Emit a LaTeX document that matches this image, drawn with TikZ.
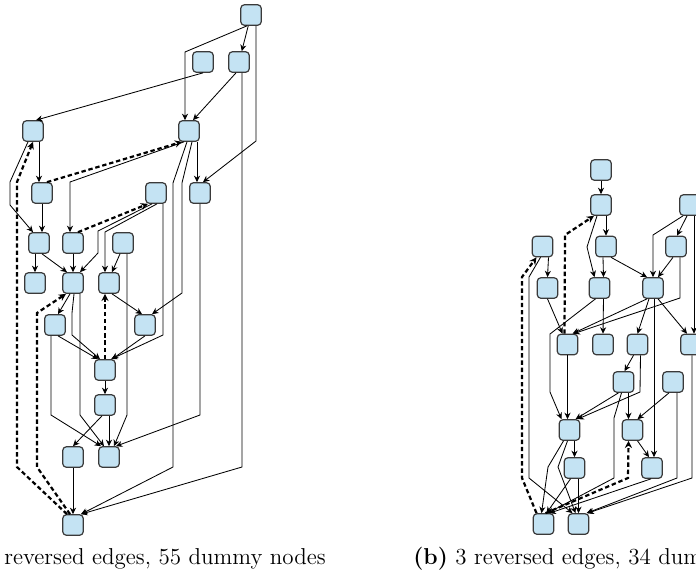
\documentclass[tikz,border=0pt]{standalone}
\usetikzlibrary{arrows.meta,calc}
\definecolor{boxfill}{HTML}{C4E3F3}
\definecolor{boxline}{HTML}{3A3A3A}
\begin{document}
\begin{tikzpicture}[x=0.5pt,y=-0.5pt,
  box/.style={draw=boxline,fill=boxfill,line width=0.6pt,rounded corners=1.8pt,minimum width=10.25pt,minimum height=10.25pt,inner sep=0pt},
  edge/.style={line width=0.42pt,-{Stealth[length=3.2pt,width=3pt,inset=1pt]}},
  rev/.style={line width=1.1pt,dash pattern=on 2.2pt off 1.4pt,-{Stealth[length=3.6pt,width=3.6pt,inset=1.2pt]}},
  captxt/.style={anchor=base west,inner sep=0pt,font=\fontsize{11.5pt}{13pt}\selectfont}]
\useasboundingbox (0,0) rectangle (696,574);
\clip (0,0) rectangle (696,574);
\fill[white] (0,0) rectangle (696,574);
% left graph nodes
\node[box] (N1) at (251,15) {};
\node[box] (N2) at (203,62) {};
\node[box] (N3) at (239,62) {};
\node[box] (N4) at (33,131) {};
\node[box] (N5) at (189,131) {};
\node[box] (N6) at (42,193) {};
\node[box] (N7) at (156,193) {};
\node[box] (N8) at (200,193) {};
\node[box] (N9) at (39,243) {};
\node[box] (N10) at (73,243) {};
\node[box] (N11) at (123,243) {};
\node[box] (N12) at (35,283) {};
\node[box] (N13) at (73,283) {};
\node[box] (N14) at (109,283) {};
\node[box] (N15) at (55,325) {};
\node[box] (N16) at (145,325) {};
\node[box] (N17) at (105,370) {};
\node[box] (N18) at (105,405) {};
\node[box] (N19) at (73,457) {};
\node[box] (N20) at (109,457) {};
\node[box] (N21) at (73,525) {};
% right graph nodes
\node[box] (R1) at (601,170) {};
\node[box] (R2) at (601,205) {};
\node[box] (R3) at (690,205) {};
\node[box] (R4) at (542.5,246.5) {};
\node[box] (R5) at (606,246.5) {};
\node[box] (R6) at (676,246.5) {};
\node[box] (R7) at (547.5,288) {};
\node[box] (R8) at (599.5,288) {};
\node[box] (R9) at (653,288) {};
\node[box] (R10) at (567.5,344.5) {};
\node[box] (R11) at (603,344.5) {};
\node[box] (R12) at (637.5,344.5) {};
\node[box] (R13) at (691,344.5) {};
\node[box] (R14) at (623.5,382) {};
\node[box] (R15) at (673,382) {};
\node[box] (R16) at (569.5,430) {};
\node[box] (R17) at (632.5,430) {};
\node[box] (R18) at (574.5,468) {};
\node[box] (R19) at (652,468) {};
\node[box] (R20) at (543.5,524) {};
\node[box] (R21) at (578.5,524) {};
% left edges
\draw[edge] (N1) -- (N3);
\draw[edge] ($(N1.south)+(-4,0)$) -- (185,52) -- ($(N5.north)+(-4,0)$);
\draw[edge] ($(N1.south)+(5,0)$) -- (256,141) -- ($(N8.north)+(3,0)$);
\draw[edge] (N2.south) -- ($(N4.north)+(3,0)$);
\draw[edge] ($(N3.south)+(-3,0)$) -- ($(N5.north)+(4,0)$);
\draw[edge] ($(N3.south)+(3,0)$) -- (242,467) -- ($(N21.north)+(8,0)$);
\draw[edge] ($(N4.south)+(6,0)$) -- ($(N6.north)+(-3,0)$);
\draw[edge] ($(N4.south)+(-5,0)$) -- (10,182) -- (10,205) -- ($(N9.north)+(-6,0)$);
\draw[rev] ($(N21.north)+(-6,0)$) -- (17,467) -- (17,182) -- (N4.south);
\draw[rev] ($(N6.north)+(5,0)$) -- ($(N5.south)+(-7,0)$);
\draw[edge] ($(N5.south)+(-5,0)$) -- (70,182) -- ($(N10.north)+(-3,0)$);
\draw[edge] ($(N5.south)+(-2,0)$) -- (173,183) -- (173,467) -- ($(N21.north)+(8,0)$);
\draw[edge] ($(N5.south)+(3,0)$) -- (182,183) -- (182,293) -- ($(N16.north)+(7,0)$);
\draw[edge] ($(N5.south)+(8,0)$) -- ($(N8.north)+(-3,0)$);
\draw[edge] (N6.south) -- ($(N9.north)+(3,0)$);
\draw[rev] ($(N10.north)+(5,0)$) -- ($(N7.south)+(-8,0)$);
\draw[edge] ($(N7.south)+(-4,0)$) -- (98,231) -- (98,253) -- ($(N13.north)+(7,0)$);
\draw[edge] ($(N7.south)+(1,0)$) -- (105,232) -- ($(N14.north)+(-4,0)$);
\draw[edge] ($(N7.south)+(7,0)$) -- (163,335) -- ($(N17.north)+(6,0)$);
\draw[edge] (N8.south) -- (200,415) -- ($(N20.north)+(7,0)$);
\draw[edge] ($(N9.south)+(-4,0)$) -- (N12.north);
\draw[edge] ($(N9.south)+(3,0)$) -- ($(N13.north)+(-6,0)$);
\draw[edge] (N10) -- (N13);
\draw[edge] ($(N11.south)+(-3,0)$) -- ($(N14.north)+(3,0)$);
\draw[edge] ($(N11.south)+(4,0)$) -- (127,415) -- ($(N20.north)+(5,0)$);
\draw[rev] ($(N21.north)+(-3,0)$) -- (37,467) -- (37,313) -- ($(N13.south)+(-7,0)$);
\draw[edge] ($(N13.south)+(-3,0)$) -- ($(N15.north)+(3,0)$);
\draw[edge] ($(N13.south)+(1,0)$) -- (72,313) -- (72,335) -- ($(N17.north)+(-5,0)$);
\draw[edge] ($(N13.south)+(7,0)$) -- (80,415) -- ($(N20.north)+(-5,0)$);
\draw[edge] ($(N14.south)+(3,0)$) -- ($(N16.north)+(-3,0)$);
\draw[rev] (N17.north) -- ($(N14.south)+(-4,0)$);
\draw[edge] ($(N15.south)+(3,0)$) -- ($(N17.north)+(-7,0)$);
\draw[edge] ($(N15.south)+(-4,0)$) -- (51,415) -- ($(N20.north)+(-8,0)$);
\draw[edge] (N16.south) -- ($(N17.north)+(7,0)$);
\draw[edge] (N17) -- (N18);
\draw[edge] ($(N18.south)+(-3,0)$) -- (N19.north);
\draw[edge] ($(N18.south)+(4,0)$) -- (N20.north);
\draw[edge] (N19) -- (N21);
% right edges
\draw[edge] (R1) -- (R2);
\draw[edge] ($(R2.south)+(5,0)$) -- (R5.north);
\draw[edge] ($(R2.south)+(-4,0)$) -- (587,247) -- ($(R8.north)+(-5,0)$);
\draw[rev] ($(R10.north)+(-3,0)$) -- (565,235) -- ($(R2.south)+(-7,0)$);
\draw[edge] ($(R3.south)+(-7,0)$) -- (653,235) -- (R9.north);
\draw[edge] ($(R3.south)+(-3,0)$) -- ($(R6.north)+(1,0)$);
\draw[edge] ($(R3.south)+(4,0)$) -- ($(R13.north)+(3,0)$);
\draw[edge] ($(R4.south)+(6,0)$) -- (R7.north);
\draw[rev] ($(R20.north)+(-7,0)$) -- (522,478) -- (522,277) -- ($(R4.south)+(-6,0)$);
\draw[edge] ($(R4.south)+(-2,0)$) -- (529,277) -- (529,478) -- ($(R21.north)+(-6,0)$);
\draw[edge] ($(R5.south)+(-3,0)$) -- ($(R8.north)+(4,0)$);
\draw[edge] ($(R5.south)+(5,0)$) -- ($(R9.north)+(-6,0)$);
\draw[edge] ($(R6.south)+(-3,0)$) -- ($(R9.north)+(5,0)$);
\draw[edge] ($(R6.south)+(4,0)$) -- (680,298) -- ($(R10.north)+(6,0)$);
\draw[edge] (R7.south) -- ($(R10.north)+(-5,0)$);
\draw[edge] ($(R8.south)+(-4,0)$) -- (550,334) -- (550,392) -- ($(R16.north)+(-8,0)$);
\draw[edge] ($(R8.south)+(4,0)$) -- (R11.north);
\draw[edge] ($(R9.south)+(-6,0)$) -- ($(R10.north)+(5,0)$);
\draw[edge] ($(R9.south)+(-4,0)$) -- (R12.north);
\draw[edge] ($(R9.south)+(1,0)$) -- ($(R19.north)+(2,0)$);
\draw[edge] ($(R9.south)+(5,0)$) -- ($(R13.north)+(-4,0)$);
\draw[edge] (R10.south) -- ($(R16.north)+(-2,0)$);
\draw[edge] ($(R12.south)+(-4,0)$) -- ($(R14.north)+(1,0)$);
\draw[edge] ($(R12.south)+(3,0)$) -- (640,392) -- ($(R16.north)+(8,0)$);
\draw[edge] ($(R13.south)+(1,0)$) -- (692,478) -- ($(R21.north)+(9,0)$);
\draw[edge] ($(R14.south)+(-5,0)$) -- ($(R16.north)+(6,0)$);
\draw[edge] ($(R14.south)+(5,0)$) -- ($(R17.north)+(-4,0)$);
\draw[edge] ($(R14.south)+(-2,0)$) -- (614,418) -- (614,478) -- ($(R20.north)+(4,0)$);
\draw[edge] ($(R15.south)+(-4,0)$) -- ($(R17.north)+(5,0)$);
\draw[edge] ($(R15.south)+(4,0)$) -- (677,478) -- ($(R21.north)+(8,0)$);
\draw[edge] ($(R16.south)+(5,0)$) -- (R18.north);
\draw[edge] ($(R16.south)+(-6,0)$) -- (548,467) -- ($(R20.north)+(-2,0)$);
\draw[edge] ($(R16.south)+(-2,0)$) -- (558,467) -- ($(R21.north)+(-3,0)$);
\draw[rev] ($(R20.north)+(2,0)$) -- (628,478) -- ($(R17.south)+(-4,0)$);
\draw[edge] ($(R17.south)+(5,0)$) -- ($(R19.north)+(-3,0)$);
\draw[edge] ($(R18.south)+(-4,0)$) -- ($(R20.north)+(3,0)$);
\draw[edge] ($(R18.south)+(4,0)$) -- (R21.north);
\draw[edge] ($(R19.south)+(-1,0)$) -- ($(R20.north)+(6,0)$);
% captions
\node[captxt] (capa) at (4,564) {reversed edges, 55 dummy nodes};
\node[captxt] (capb) at (413,564) {\textbf{(b)} 3 reversed edges, 34 dummy nodes};
\end{tikzpicture}
\end{document}
